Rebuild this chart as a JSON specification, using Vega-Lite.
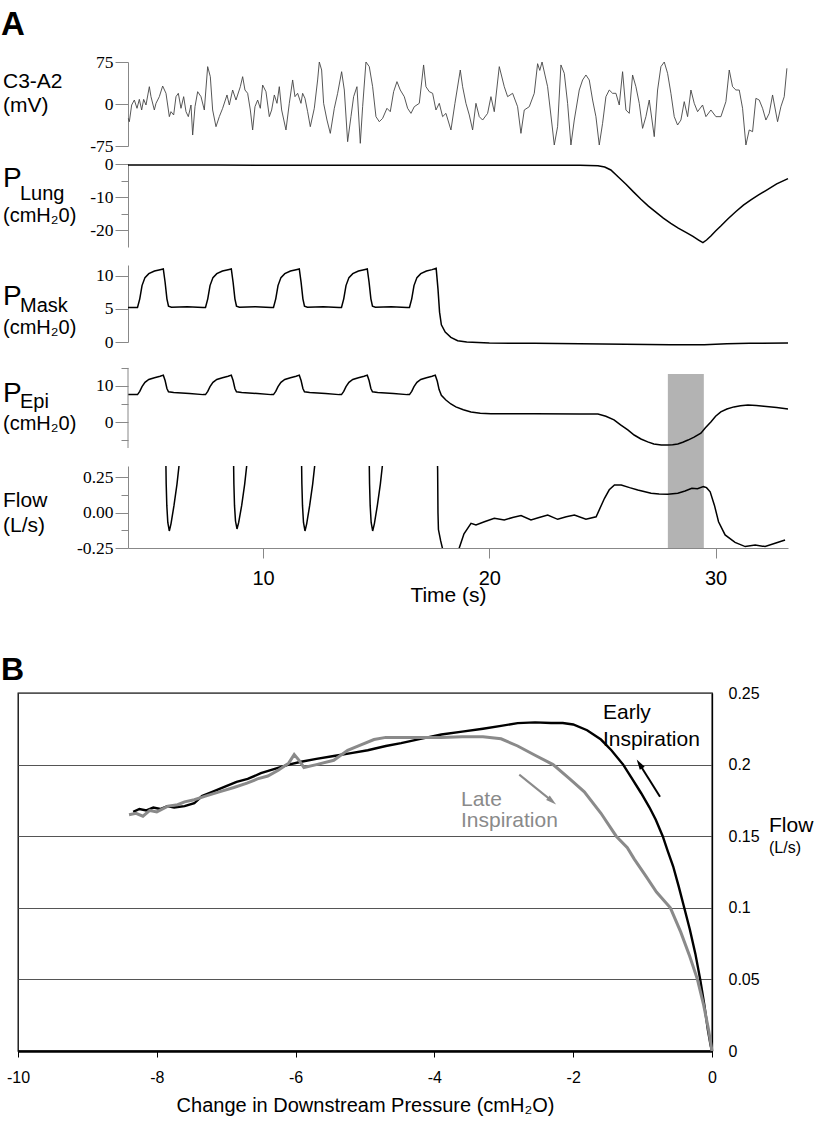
{
"$schema": "https://vega.github.io/schema/vega-lite/v6.json",
"padding": {"left": 0, "top": 9, "right": 0, "bottom": 0},
"config": {"view": {"stroke": null}, "font": "Liberation Sans"},
"datasets": {
"eeg": [{"t":4.045,"v":-25.6},{"t":4.089,"v":-31.6},{"t":4.192,"v":-1.8},{"t":4.31,"v":7.1},{"t":4.428,"v":-7.7},{"t":4.531,"v":8.3},{"t":4.634,"v":-10.7},{"t":4.722,"v":8.3},{"t":4.825,"v":-1.8},{"t":4.973,"v":30.9},{"t":5.046,"v":13.1},{"t":5.194,"v":-10.7},{"t":5.267,"v":1.2},{"t":5.415,"v":13.1},{"t":5.562,"v":32.1},{"t":5.709,"v":19.1},{"t":5.857,"v":-22.6},{"t":5.93,"v":-13.7},{"t":6.048,"v":-19.6},{"t":6.151,"v":13.1},{"t":6.254,"v":19.1},{"t":6.372,"v":-7.7},{"t":6.49,"v":13.1},{"t":6.593,"v":-13.7},{"t":6.696,"v":-22.6},{"t":6.814,"v":-1.8},{"t":6.888,"v":-55.4},{"t":6.991,"v":-4.8},{"t":7.109,"v":22},{"t":7.256,"v":13.1},{"t":7.403,"v":-10.7},{"t":7.551,"v":66.7},{"t":7.668,"v":48.8},{"t":7.771,"v":-10.7},{"t":7.919,"v":-40.5},{"t":8.066,"v":-22.6},{"t":8.213,"v":-7.7},{"t":8.405,"v":16.1},{"t":8.508,"v":-1.8},{"t":8.655,"v":25},{"t":8.803,"v":7.1},{"t":8.994,"v":30.9},{"t":9.097,"v":48.8},{"t":9.2,"v":25},{"t":9.318,"v":19.1},{"t":9.436,"v":-10.7},{"t":9.539,"v":-46.4},{"t":9.642,"v":-4.8},{"t":9.76,"v":7.1},{"t":9.878,"v":-7.7},{"t":9.981,"v":33.9},{"t":10.128,"v":22},{"t":10.276,"v":-22.6},{"t":10.379,"v":-10.7},{"t":10.497,"v":16.1},{"t":10.614,"v":1.2},{"t":10.717,"v":30.9},{"t":10.821,"v":-10.7},{"t":11.012,"v":-46.4},{"t":11.159,"v":1.2},{"t":11.307,"v":42.9},{"t":11.41,"v":13.1},{"t":11.527,"v":19.1},{"t":11.675,"v":1.2},{"t":11.748,"v":19.1},{"t":11.852,"v":10.1},{"t":11.969,"v":-13.7},{"t":12.087,"v":-40.5},{"t":12.264,"v":-7.7},{"t":12.411,"v":42.9},{"t":12.485,"v":75},{"t":12.588,"v":60.7},{"t":12.676,"v":1.2},{"t":12.824,"v":-28.6},{"t":12.971,"v":-52.4},{"t":13.148,"v":-7.7},{"t":13.295,"v":19.1},{"t":13.472,"v":57.7},{"t":13.59,"v":25},{"t":13.737,"v":-67.3},{"t":13.884,"v":-22.6},{"t":14.002,"v":13.1},{"t":14.149,"v":30.9},{"t":14.297,"v":-70.2},{"t":14.4,"v":-4.8},{"t":14.547,"v":75},{"t":14.694,"v":66.7},{"t":14.842,"v":30.9},{"t":14.989,"v":-22.6},{"t":15.136,"v":-31.6},{"t":15.284,"v":-25.6},{"t":15.475,"v":-7.7},{"t":15.622,"v":-13.7},{"t":15.77,"v":22},{"t":15.917,"v":39.9},{"t":16.064,"v":25},{"t":16.241,"v":13.1},{"t":16.388,"v":-7.7},{"t":16.536,"v":-16.7},{"t":16.683,"v":-4.8},{"t":16.904,"v":1.2},{"t":17.095,"v":69.7},{"t":17.198,"v":30.9},{"t":17.346,"v":22},{"t":17.493,"v":19.1},{"t":17.64,"v":-10.7},{"t":17.788,"v":1.2},{"t":17.935,"v":-22.6},{"t":18.082,"v":-16.7},{"t":18.303,"v":-46.4},{"t":18.48,"v":1.2},{"t":18.716,"v":60.7},{"t":18.819,"v":30.9},{"t":18.966,"v":1.2},{"t":19.113,"v":-19.6},{"t":19.261,"v":-46.4},{"t":19.408,"v":1.2},{"t":19.555,"v":-22.6},{"t":19.703,"v":-28.6},{"t":19.924,"v":-16.7},{"t":20.071,"v":13.1},{"t":20.218,"v":-13.7},{"t":20.439,"v":66.7},{"t":20.66,"v":30.9},{"t":20.808,"v":13.1},{"t":21.028,"v":19.1},{"t":21.249,"v":-4.8},{"t":21.397,"v":-52.4},{"t":21.544,"v":-10.7},{"t":21.765,"v":-4.8},{"t":21.986,"v":19.1},{"t":22.133,"v":72},{"t":22.23,"v":60},{"t":22.33,"v":75},{"t":22.575,"v":30.9},{"t":22.796,"v":-46.4},{"t":22.87,"v":-73.2},{"t":23.017,"v":-40.5},{"t":23.164,"v":69.7},{"t":23.312,"v":54.8},{"t":23.459,"v":1.2},{"t":23.606,"v":-73.2},{"t":23.754,"v":-28.6},{"t":23.974,"v":25},{"t":24.122,"v":42.9},{"t":24.269,"v":51.8},{"t":24.416,"v":42.9},{"t":24.564,"v":7.1},{"t":24.711,"v":-22.6},{"t":24.858,"v":-73.2},{"t":25.005,"v":-34.5},{"t":25.153,"v":13.1},{"t":25.3,"v":25},{"t":25.447,"v":19.1},{"t":25.595,"v":19.1},{"t":25.742,"v":-1.8},{"t":25.889,"v":57.7},{"t":26.037,"v":-10.7},{"t":26.184,"v":-16.7},{"t":26.331,"v":51.8},{"t":26.478,"v":30.9},{"t":26.626,"v":1.2},{"t":26.773,"v":-43.5},{"t":26.92,"v":-22.6},{"t":27.068,"v":7.1},{"t":27.289,"v":-58.3},{"t":27.436,"v":25},{"t":27.583,"v":66.7},{"t":27.731,"v":75},{"t":27.878,"v":54.8},{"t":28.025,"v":19.1},{"t":28.172,"v":-22.6},{"t":28.32,"v":-37.5},{"t":28.467,"v":-28.6},{"t":28.614,"v":4.2},{"t":28.762,"v":-22.6},{"t":28.909,"v":25},{"t":29.056,"v":1.2},{"t":29.203,"v":-13.7},{"t":29.424,"v":-1.8},{"t":29.572,"v":-22.6},{"t":29.793,"v":-10.7},{"t":30.014,"v":-22.6},{"t":30.234,"v":-22.6},{"t":30.455,"v":4.2},{"t":30.603,"v":60.7},{"t":30.75,"v":30.9},{"t":30.897,"v":25},{"t":31.045,"v":25},{"t":31.192,"v":-7.7},{"t":31.339,"v":-73.2},{"t":31.486,"v":-46.4},{"t":31.634,"v":-49.4},{"t":31.781,"v":10.1},{"t":31.928,"v":7.1},{"t":32.076,"v":-7.7},{"t":32.223,"v":-28.6},{"t":32.37,"v":-16.7},{"t":32.518,"v":16.1},{"t":32.739,"v":-31.6},{"t":32.886,"v":-4.8},{"t":33.033,"v":13.1},{"t":33.151,"v":63.7}],
"lung": [{"t":4.03,"v":-0.3},{"t":8,"v":-0.3},{"t":12,"v":-0.4},{"t":16,"v":-0.35},{"t":20,"v":-0.4},{"t":24,"v":-0.4},{"t":24.8,"v":-0.5},{"t":25.1,"v":-0.9},{"t":25.37,"v":-1.8},{"t":25.7,"v":-3.9},{"t":26.04,"v":-6.1},{"t":26.37,"v":-8.4},{"t":26.7,"v":-10.6},{"t":27.03,"v":-12.7},{"t":27.36,"v":-14.5},{"t":27.69,"v":-16.3},{"t":28.02,"v":-17.9},{"t":28.35,"v":-19.3},{"t":28.69,"v":-20.6},{"t":29.0,"v":-21.8},{"t":29.25,"v":-22.9},{"t":29.44,"v":-23.7},{"t":29.6,"v":-22.9},{"t":29.79,"v":-21.7},{"t":30.0,"v":-20.2},{"t":30.23,"v":-18.7},{"t":30.55,"v":-16.5},{"t":30.9,"v":-14.3},{"t":31.23,"v":-12.4},{"t":31.56,"v":-10.8},{"t":31.9,"v":-9.3},{"t":32.22,"v":-8.0},{"t":32.7,"v":-6.0},{"t":33.2,"v":-4.4}],
"mask": [{"t":4.03,"v":5.2},{"t":4.45,"v":5.2},{"t":4.55,"v":6.5},{"t":4.65,"v":8.5},{"t":4.78,"v":9.7},{"t":4.95,"v":10.3},{"t":5.2,"v":10.7},{"t":5.45,"v":10.9},{"t":5.59,"v":11.0},{"t":5.67,"v":9.0},{"t":5.75,"v":6.5},{"t":5.82,"v":5.4},{"t":5.95,"v":5.25},{"t":6.65,"v":5.3},{"t":7.35,"v":5.2},{"t":7.455,"v":5.2},{"t":7.555,"v":6.5},{"t":7.655,"v":8.5},{"t":7.785,"v":9.7},{"t":7.955,"v":10.3},{"t":8.205,"v":10.7},{"t":8.455,"v":10.9},{"t":8.595,"v":11.0},{"t":8.675,"v":9.0},{"t":8.755,"v":6.5},{"t":8.825,"v":5.4},{"t":8.955,"v":5.25},{"t":9.655,"v":5.3},{"t":10.355,"v":5.2},{"t":10.46,"v":5.2},{"t":10.56,"v":6.5},{"t":10.66,"v":8.5},{"t":10.79,"v":9.7},{"t":10.96,"v":10.3},{"t":11.21,"v":10.7},{"t":11.46,"v":10.9},{"t":11.6,"v":11.0},{"t":11.68,"v":9.0},{"t":11.76,"v":6.5},{"t":11.83,"v":5.4},{"t":11.96,"v":5.25},{"t":12.66,"v":5.3},{"t":13.36,"v":5.2},{"t":13.465,"v":5.2},{"t":13.565,"v":6.5},{"t":13.665,"v":8.5},{"t":13.795,"v":9.7},{"t":13.965,"v":10.3},{"t":14.215,"v":10.7},{"t":14.465,"v":10.9},{"t":14.605,"v":11.0},{"t":14.685,"v":9.0},{"t":14.765,"v":6.5},{"t":14.835,"v":5.4},{"t":14.965,"v":5.25},{"t":15.665,"v":5.3},{"t":16.365,"v":5.2},{"t":16.47,"v":5.2},{"t":16.57,"v":6.5},{"t":16.67,"v":8.5},{"t":16.8,"v":9.7},{"t":16.97,"v":10.3},{"t":17.22,"v":10.7},{"t":17.47,"v":10.9},{"t":17.65,"v":11.1},{"t":17.73,"v":8},{"t":17.8,"v":4.5},{"t":17.88,"v":2.6},{"t":18.05,"v":1.5},{"t":18.3,"v":0.7},{"t":18.6,"v":0.2},{"t":19.0,"v":0.0},{"t":20,"v":-0.15},{"t":22,"v":-0.2},{"t":24,"v":-0.25},{"t":26,"v":-0.35},{"t":28,"v":-0.4},{"t":29.5,"v":-0.4},{"t":30.5,"v":-0.25},{"t":31.5,"v":-0.2},{"t":33.2,"v":-0.15}],
"epi": [{"t":4.03,"v":7.6},{"t":4.45,"v":7.6},{"t":4.55,"v":8.5},{"t":4.65,"v":9.8},{"t":4.78,"v":11.0},{"t":4.95,"v":11.8},{"t":5.2,"v":12.3},{"t":5.45,"v":12.7},{"t":5.59,"v":13.0},{"t":5.67,"v":11.5},{"t":5.75,"v":9.3},{"t":5.82,"v":8.4},{"t":6.05,"v":8.2},{"t":6.75,"v":7.9},{"t":7.35,"v":7.6},{"t":7.455,"v":7.6},{"t":7.555,"v":8.5},{"t":7.655,"v":9.8},{"t":7.785,"v":11.0},{"t":7.955,"v":11.8},{"t":8.205,"v":12.3},{"t":8.455,"v":12.7},{"t":8.595,"v":13.0},{"t":8.675,"v":11.5},{"t":8.755,"v":9.3},{"t":8.825,"v":8.4},{"t":9.055,"v":8.2},{"t":9.755,"v":7.9},{"t":10.355,"v":7.6},{"t":10.46,"v":7.6},{"t":10.56,"v":8.5},{"t":10.66,"v":9.8},{"t":10.79,"v":11.0},{"t":10.96,"v":11.8},{"t":11.21,"v":12.3},{"t":11.46,"v":12.7},{"t":11.6,"v":13.0},{"t":11.68,"v":11.5},{"t":11.76,"v":9.3},{"t":11.83,"v":8.4},{"t":12.06,"v":8.2},{"t":12.76,"v":7.9},{"t":13.36,"v":7.6},{"t":13.465,"v":7.6},{"t":13.565,"v":8.5},{"t":13.665,"v":9.8},{"t":13.795,"v":11.0},{"t":13.965,"v":11.8},{"t":14.215,"v":12.3},{"t":14.465,"v":12.7},{"t":14.605,"v":13.0},{"t":14.685,"v":11.5},{"t":14.765,"v":9.3},{"t":14.835,"v":8.4},{"t":15.065,"v":8.2},{"t":15.765,"v":7.9},{"t":16.365,"v":7.6},{"t":16.47,"v":7.6},{"t":16.57,"v":8.5},{"t":16.67,"v":9.8},{"t":16.8,"v":11.0},{"t":16.97,"v":11.8},{"t":17.22,"v":12.3},{"t":17.47,"v":12.7},{"t":17.61,"v":13.0},{"t":17.7,"v":11.3},{"t":17.78,"v":9.0},{"t":17.88,"v":7.4},{"t":18.08,"v":6.1},{"t":18.3,"v":5.0},{"t":18.52,"v":4.2},{"t":18.85,"v":3.4},{"t":19.19,"v":2.8},{"t":19.6,"v":2.45},{"t":20.07,"v":2.3},{"t":22,"v":2.3},{"t":24,"v":2.25},{"t":24.8,"v":2.2},{"t":25.15,"v":1.6},{"t":25.51,"v":0.6},{"t":25.8,"v":-0.8},{"t":26.12,"v":-2.2},{"t":26.4,"v":-3.6},{"t":26.7,"v":-4.7},{"t":27.0,"v":-5.5},{"t":27.27,"v":-6.1},{"t":27.6,"v":-6.4},{"t":27.89,"v":-6.4},{"t":28.1,"v":-6.3},{"t":28.33,"v":-6.1},{"t":28.55,"v":-5.6},{"t":28.78,"v":-5.0},{"t":29.05,"v":-4.2},{"t":29.35,"v":-3.1},{"t":29.55,"v":-1.6},{"t":29.79,"v":0.0},{"t":30.0,"v":1.6},{"t":30.23,"v":2.8},{"t":30.5,"v":3.6},{"t":30.81,"v":4.2},{"t":31.1,"v":4.5},{"t":31.43,"v":4.7},{"t":31.8,"v":4.6},{"t":32.13,"v":4.4},{"t":32.7,"v":4.0},{"t":33.2,"v":3.6}],
"flow": [{"t":4.03,"v":0.6},{"t":5.6,"v":0.6},{"t":5.7,"v":0.4},{"t":5.718,"v":0.2},{"t":5.745,"v":0.05},{"t":5.789,"v":-0.07},{"t":5.855,"v":-0.13},{"t":5.93,"v":-0.08},{"t":6.063,"v":0.05},{"t":6.195,"v":0.2},{"t":6.306,"v":0.36},{"t":6.4,"v":0.6},{"t":8.6,"v":0.6},{"t":8.692,"v":0.4},{"t":8.71,"v":0.2},{"t":8.737,"v":0.05},{"t":8.781,"v":-0.06},{"t":8.847,"v":-0.116},{"t":8.922,"v":-0.07},{"t":9.055,"v":0.05},{"t":9.187,"v":0.2},{"t":9.298,"v":0.36},{"t":9.4,"v":0.6},{"t":11.6,"v":0.6},{"t":11.697,"v":0.4},{"t":11.715,"v":0.2},{"t":11.742,"v":0.05},{"t":11.786,"v":-0.07},{"t":11.852,"v":-0.13},{"t":11.927,"v":-0.08},{"t":12.06,"v":0.05},{"t":12.192,"v":0.2},{"t":12.303,"v":0.36},{"t":12.4,"v":0.6},{"t":14.6,"v":0.6},{"t":14.688,"v":0.4},{"t":14.706,"v":0.2},{"t":14.733,"v":0.05},{"t":14.777,"v":-0.07},{"t":14.843,"v":-0.13},{"t":14.918,"v":-0.08},{"t":15.051,"v":0.05},{"t":15.183,"v":0.2},{"t":15.294,"v":0.36},{"t":15.4,"v":0.6},{"t":17.6,"v":0.6},{"t":17.7,"v":0.4},{"t":17.715,"v":0.3},{"t":17.73,"v":0.0},{"t":17.75,"v":-0.12},{"t":17.85,"v":-0.2},{"t":17.94,"v":-0.26},{"t":18.0,"v":-0.5},{"t":18.6,"v":-0.5},{"t":18.67,"v":-0.25},{"t":18.88,"v":-0.15},{"t":19.19,"v":-0.076},{"t":19.41,"v":-0.088},{"t":19.78,"v":-0.065},{"t":20.22,"v":-0.041},{"t":20.66,"v":-0.053},{"t":21.03,"v":-0.035},{"t":21.4,"v":-0.022},{"t":21.84,"v":-0.053},{"t":22.2,"v":-0.035},{"t":22.58,"v":-0.018},{"t":23.02,"v":-0.048},{"t":23.4,"v":-0.03},{"t":23.76,"v":-0.018},{"t":24.27,"v":-0.048},{"t":24.72,"v":-0.03},{"t":25.09,"v":0.1},{"t":25.3,"v":0.16},{"t":25.53,"v":0.194},{"t":25.83,"v":0.194},{"t":26.2,"v":0.175},{"t":26.56,"v":0.158},{"t":27.15,"v":0.135},{"t":27.5,"v":0.13},{"t":27.89,"v":0.128},{"t":28.33,"v":0.135},{"t":28.65,"v":0.152},{"t":28.95,"v":0.17},{"t":29.2,"v":0.168},{"t":29.46,"v":0.182},{"t":29.6,"v":0.175},{"t":29.76,"v":0.146},{"t":29.95,"v":0.05},{"t":30.13,"v":-0.065},{"t":30.42,"v":-0.158},{"t":30.86,"v":-0.21},{"t":31.31,"v":-0.24},{"t":31.75,"v":-0.229},{"t":32.19,"v":-0.24},{"t":32.63,"v":-0.217},{"t":33.07,"v":-0.194}],
"band": [{"start":27.89,"end":29.48}],
"early": [{"p":-8.34,"f":0.167},{"p":-8.25,"f":0.169},{"p":-8.15,"f":0.168},{"p":-8.05,"f":0.17},{"p":-7.95,"f":0.169},{"p":-7.85,"f":0.171},{"p":-7.75,"f":0.17},{"p":-7.6,"f":0.171},{"p":-7.46,"f":0.173},{"p":-7.35,"f":0.178},{"p":-7.2,"f":0.181},{"p":-7.0,"f":0.185},{"p":-6.85,"f":0.188},{"p":-6.69,"f":0.19},{"p":-6.5,"f":0.194},{"p":-6.3,"f":0.197},{"p":-6.1,"f":0.2},{"p":-5.92,"f":0.202},{"p":-5.7,"f":0.204},{"p":-5.45,"f":0.206},{"p":-5.2,"f":0.208},{"p":-4.96,"f":0.21},{"p":-4.7,"f":0.213},{"p":-4.48,"f":0.215},{"p":-4.2,"f":0.218},{"p":-3.9,"f":0.221},{"p":-3.6,"f":0.223},{"p":-3.3,"f":0.225},{"p":-3.04,"f":0.227},{"p":-2.8,"f":0.229},{"p":-2.55,"f":0.2295},{"p":-2.32,"f":0.229},{"p":-2.15,"f":0.229},{"p":-2.0,"f":0.228},{"p":-1.8,"f":0.224},{"p":-1.6,"f":0.2175},{"p":-1.45,"f":0.21},{"p":-1.28,"f":0.2},{"p":-1.15,"f":0.19},{"p":-1.02,"f":0.18},{"p":-0.9,"f":0.17},{"p":-0.81,"f":0.1615},{"p":-0.71,"f":0.15},{"p":-0.64,"f":0.14},{"p":-0.56,"f":0.129},{"p":-0.48,"f":0.115},{"p":-0.4,"f":0.1},{"p":-0.32,"f":0.085},{"p":-0.24,"f":0.068},{"p":-0.17,"f":0.05},{"p":-0.11,"f":0.032},{"p":-0.06,"f":0.015},{"p":-0.02,"f":0.004},{"p":0,"f":0}],
"late": [{"p":-8.4,"f":0.165},{"p":-8.3,"f":0.166},{"p":-8.2,"f":0.164},{"p":-8.1,"f":0.168},{"p":-8.0,"f":0.167},{"p":-7.84,"f":0.171},{"p":-7.7,"f":0.172},{"p":-7.6,"f":0.174},{"p":-7.46,"f":0.1755},{"p":-7.3,"f":0.178},{"p":-7.1,"f":0.181},{"p":-6.89,"f":0.184},{"p":-6.7,"f":0.187},{"p":-6.55,"f":0.19},{"p":-6.4,"f":0.192},{"p":-6.25,"f":0.196},{"p":-6.1,"f":0.201},{"p":-6.02,"f":0.207},{"p":-5.95,"f":0.203},{"p":-5.88,"f":0.198},{"p":-5.7,"f":0.2},{"p":-5.45,"f":0.203},{"p":-5.25,"f":0.21},{"p":-5.05,"f":0.214},{"p":-4.87,"f":0.2175},{"p":-4.7,"f":0.219},{"p":-4.5,"f":0.219},{"p":-4.2,"f":0.219},{"p":-3.9,"f":0.219},{"p":-3.6,"f":0.2195},{"p":-3.3,"f":0.2195},{"p":-3.04,"f":0.218},{"p":-2.8,"f":0.213},{"p":-2.55,"f":0.2065},{"p":-2.29,"f":0.2},{"p":-2.05,"f":0.19},{"p":-1.84,"f":0.181},{"p":-1.6,"f":0.166},{"p":-1.38,"f":0.15},{"p":-1.22,"f":0.142},{"p":-1.12,"f":0.134},{"p":-0.95,"f":0.122},{"p":-0.8,"f":0.111},{"p":-0.6,"f":0.1},{"p":-0.45,"f":0.083},{"p":-0.32,"f":0.066},{"p":-0.21,"f":0.05},{"p":-0.12,"f":0.032},{"p":-0.05,"f":0.015},{"p":-0.02,"f":0.006},{"p":0,"f":0}]
},
"vconcat": [
{
"bounds": "flush",
"spacing": 0,
"hconcat": [
{"width": 110, "height": 1, "data": {"values": []}, "mark": "point", "encoding": {}},
{
"bounds": "flush",
"spacing": 18,
"vconcat": [
{
"width": 660, "height": 84,
"layer": [
{"data": {"name": "eeg"}, "mark": {"type": "line", "color": "#444", "strokeWidth": 0.9},
 "encoding": {
  "x": {"field": "t", "type": "quantitative", "scale": {"domain": [4.03, 33.2], "nice": false, "zero": false}, "axis": {"orient": "bottom", "domain": false, "ticks": false, "labels": false, "grid": false, "title": null}},
  "y": {"field": "v", "type": "quantitative", "scale": {"domain": [-75, 75], "nice": false, "zero": false},
        "axis": {"orient": "left", "values": [-75, 0, 75], "tickCount": 12, "labelExpr": "'' + datum.value", "title": null, "grid": false, "domainColor": "#888", "tickColor": "#888", "tickSize": 13, "labelPadding": 2, "labelFont": "Liberation Serif", "labelFontSize": 17.5, "labelColor": "#000", "labelOverlap": false}}}},
{"data": {"values": [{}]}, "mark": {"type": "text", "text": "A", "font": "Liberation Sans", "fontSize": 33, "fontWeight": "bold", "align": "left", "baseline": "alphabetic", "dx": -127, "dy": -27},
 "encoding": {"x": {"datum": 4.03}, "y": {"datum": 75}}},
{"data": {"values": [{}]}, "mark": {"type": "text", "text": "C3-A2", "font": "Liberation Sans", "fontSize": 21, "align": "left", "baseline": "alphabetic", "dx": -125, "dy": 26},
 "encoding": {"x": {"datum": 4.03}, "y": {"datum": 75}}},
{"data": {"values": [{}]}, "mark": {"type": "text", "text": "(mV)", "font": "Liberation Sans", "fontSize": 21, "align": "left", "baseline": "alphabetic", "dx": -125, "dy": 50},
 "encoding": {"x": {"datum": 4.03}, "y": {"datum": 75}}}
]
},
{
"width": 660, "height": 83,
"layer": [
{"data": {"name": "lung"}, "mark": {"type": "line", "color": "#000", "strokeWidth": 1.5},
 "encoding": {
  "x": {"field": "t", "type": "quantitative", "scale": {"domain": [4.03, 33.2], "nice": false, "zero": false}, "axis": {"orient": "bottom", "domain": false, "ticks": false, "labels": false, "grid": false, "title": null}},
  "y": {"field": "v", "type": "quantitative", "scale": {"domain": [-25, 0], "nice": false, "zero": false},
        "axis": {"orient": "left", "values": [-20, -15, -10, -5, 0], "tickCount": 12, "labelExpr": "datum.value % 10 === 0 ? '' + datum.value : ''", "title": null, "grid": false, "domainColor": "#888", "tickColor": "#888", "tickSize": {"condition": {"test": "datum.value % 10 === 0", "value": 13}, "value": 7}, "labelPadding": 2, "labelFont": "Liberation Serif", "labelFontSize": 17.5, "labelColor": "#000", "labelOverlap": false}}}},
{"data": {"values": [{}]}, "mark": {"type": "text", "text": "P", "font": "Liberation Sans", "fontSize": 28, "align": "left", "baseline": "alphabetic", "dx": -125, "dy": 23},
 "encoding": {"x": {"datum": 4.03}, "y": {"datum": 0}}},
{"data": {"values": [{}]}, "mark": {"type": "text", "text": "Lung", "font": "Liberation Sans", "fontSize": 20, "align": "left", "baseline": "alphabetic", "dx": -108, "dy": 36},
 "encoding": {"x": {"datum": 4.03}, "y": {"datum": 0}}},
{"data": {"values": [{}]}, "mark": {"type": "text", "text": "(cmH₂0)", "font": "Liberation Sans", "fontSize": 20, "align": "left", "baseline": "alphabetic", "dx": -125, "dy": 58},
 "encoding": {"x": {"datum": 4.03}, "y": {"datum": 0}}}
]
},
{
"width": 660, "height": 77,
"layer": [
{"data": {"name": "mask"}, "mark": {"type": "line", "color": "#000", "strokeWidth": 1.5},
 "encoding": {
  "x": {"field": "t", "type": "quantitative", "scale": {"domain": [4.03, 33.2], "nice": false, "zero": false}, "axis": {"orient": "bottom", "domain": false, "ticks": false, "labels": false, "grid": false, "title": null}},
  "y": {"field": "v", "type": "quantitative", "scale": {"domain": [0, 11.6], "nice": false, "zero": false},
        "axis": {"orient": "left", "values": [0, 5, 10], "tickCount": 12, "labelExpr": "'' + datum.value", "title": null, "grid": false, "domainColor": "#888", "tickColor": "#888", "tickSize": 13, "labelPadding": 2, "labelFont": "Liberation Serif", "labelFontSize": 17.5, "labelColor": "#000", "labelOverlap": false}}}},
{"data": {"values": [{}]}, "mark": {"type": "text", "text": "P", "font": "Liberation Sans", "fontSize": 28, "align": "left", "baseline": "alphabetic", "dx": -125, "dy": 40},
 "encoding": {"x": {"datum": 4.03}, "y": {"datum": 11.6}}},
{"data": {"values": [{}]}, "mark": {"type": "text", "text": "Mask", "font": "Liberation Sans", "fontSize": 20, "align": "left", "baseline": "alphabetic", "dx": -108, "dy": 47},
 "encoding": {"x": {"datum": 4.03}, "y": {"datum": 11.6}}},
{"data": {"values": [{}]}, "mark": {"type": "text", "text": "(cmH₂0)", "font": "Liberation Sans", "fontSize": 20, "align": "left", "baseline": "alphabetic", "dx": -125, "dy": 69},
 "encoding": {"x": {"datum": 4.03}, "y": {"datum": 11.6}}}
]
},
{
"width": 660, "height": 88,
"layer": [
{"data": {"name": "band"}, "mark": {"type": "rect", "color": "#b3b3b3"},
 "encoding": {
  "x": {"field": "start", "type": "quantitative", "scale": {"domain": [4.03, 33.2], "nice": false, "zero": false}},
  "x2": {"field": "end"},
  "y": {"datum": 13.3}, "y2": {"datum": -12.2}}},
{"data": {"name": "epi"}, "mark": {"type": "line", "color": "#000", "strokeWidth": 1.5},
 "encoding": {
  "x": {"field": "t", "type": "quantitative", "axis": {"orient": "bottom", "domain": false, "ticks": false, "labels": false, "grid": false, "title": null}},
  "y": {"field": "v", "type": "quantitative", "scale": {"domain": [-7.2, 17.2], "nice": false, "zero": false},
        "axis": {"orient": "left", "values": [-5, 0, 5, 10, 15], "tickCount": 12, "labelExpr": "datum.value % 10 === 0 ? '' + datum.value : ''", "title": null, "grid": false, "domain": false, "tickColor": "#888", "tickSize": {"condition": {"test": "datum.value % 10 === 0", "value": 13}, "value": 7}, "labelPadding": 2, "labelFont": "Liberation Serif", "labelFontSize": 17.5, "labelColor": "#000", "labelOverlap": false}}}},
{"data": {"values": [{}]}, "mark": {"type": "rule", "color": "#888", "strokeWidth": 1},
 "encoding": {"x": {"datum": 4.03}, "y": {"datum": 15}, "y2": {"datum": -7.2}}},
{"data": {"values": [{}]}, "mark": {"type": "text", "text": "P", "font": "Liberation Sans", "fontSize": 28, "align": "left", "baseline": "alphabetic", "dx": -125, "dy": 42},
 "encoding": {"x": {"datum": 4.03}, "y": {"datum": 17.2}}},
{"data": {"values": [{}]}, "mark": {"type": "text", "text": "Epi", "font": "Liberation Sans", "fontSize": 20, "align": "left", "baseline": "alphabetic", "dx": -108, "dy": 48},
 "encoding": {"x": {"datum": 4.03}, "y": {"datum": 17.2}}},
{"data": {"values": [{}]}, "mark": {"type": "text", "text": "(cmH₂0)", "font": "Liberation Sans", "fontSize": 20, "align": "left", "baseline": "alphabetic", "dx": -125, "dy": 70},
 "encoding": {"x": {"datum": 4.03}, "y": {"datum": 17.2}}}
]
},
{
"width": 660, "height": 82,
"layer": [
{"data": {"name": "band"}, "mark": {"type": "rect", "color": "#b3b3b3"},
 "encoding": {
  "x": {"field": "start", "type": "quantitative", "scale": {"domain": [4.03, 33.2], "nice": false, "zero": false}},
  "x2": {"field": "end"},
  "y": {"datum": 0.3275}, "y2": {"datum": -0.25}}},
{"data": {"name": "flow"}, "mark": {"type": "line", "color": "#000", "strokeWidth": 1.5, "clip": true},
 "encoding": {
  "x": {"field": "t", "type": "quantitative",
        "axis": {"orient": "bottom", "values": [10, 20, 30], "tickCount": 12, "labelExpr": "'' + datum.value", "labelFont": "Liberation Sans", "labelFontSize": 20, "labelColor": "#000", "labelPadding": 10, "labelFlush": false, "tickSize": 10, "tickColor": "#888", "domainColor": "#888", "grid": false, "title": "Time (s)", "titleFont": "Liberation Sans", "titleFontSize": 21, "titleFontWeight": "normal", "titleColor": "#000", "titleX": 320, "titleY": 53, "titleBaseline": "alphabetic", "titleAlign": "center"}},
  "y": {"field": "v", "type": "quantitative", "scale": {"domain": [-0.25, 0.3275], "nice": false, "zero": false},
        "axis": {"orient": "left", "values": [-0.25, -0.125, 0, 0.125, 0.25], "tickCount": 12, "labelExpr": "datum.value === 0 ? '0.00' : datum.value === 0.25 ? '0.25' : datum.value === -0.25 ? '-0.25' : ''", "title": null, "grid": false, "domainColor": "#888", "tickColor": "#888", "tickSize": {"condition": {"test": "datum.value % 0.25 === 0", "value": 13}, "value": 7}, "labelPadding": 2, "labelFont": "Liberation Serif", "labelFontSize": 17.5, "labelColor": "#000", "labelOverlap": false}}}},
{"data": {"values": [{}]}, "mark": {"type": "text", "text": "Flow", "font": "Liberation Sans", "fontSize": 21, "align": "left", "baseline": "alphabetic", "dx": -125, "dy": 41},
 "encoding": {"x": {"datum": 4.03}, "y": {"datum": 0.3275}}},
{"data": {"values": [{}]}, "mark": {"type": "text", "text": "(L/s)", "font": "Liberation Sans", "fontSize": 21, "align": "left", "baseline": "alphabetic", "dx": -125, "dy": 66},
 "encoding": {"x": {"datum": 4.03}, "y": {"datum": 0.3275}}}
]
}
]
}
]
},
{
"width": 694, "height": 358,
"view": {"stroke": "#000", "strokeWidth": 1.3},
"layer": [
{"data": {"name": "early"}, "mark": {"type": "line", "color": "#000", "strokeWidth": 2.4},
 "encoding": {
  "x": {"field": "p", "type": "quantitative", "scale": {"domain": [-10, 0], "nice": false, "zero": false},
        "axis": {"orient": "bottom", "values": [-10, -8, -6, -4, -2, 0], "tickCount": 12, "labelExpr": "'' + datum.value", "labelFont": "Liberation Sans", "labelFontSize": 16, "labelColor": "#000", "labelPadding": 12, "labelFlush": false, "tickSize": 6, "tickColor": "#000", "domainColor": "#000", "domainWidth": 2.5, "grid": false, "title": "Change in Downstream Pressure (cmH₂O)", "titleFont": "Liberation Sans", "titleFontSize": 20, "titleFontWeight": "normal", "titleColor": "#000", "titlePadding": 10}},
  "y": {"field": "f", "type": "quantitative", "scale": {"domain": [0, 0.25], "nice": false},
        "axis": {"orient": "right", "values": [0, 0.05, 0.1, 0.15, 0.2, 0.25], "tickCount": 12, "labelExpr": "'' + datum.value", "labelFont": "Liberation Sans", "labelFontSize": 16, "labelColor": "#000", "labelPadding": 16, "ticks": false, "domainColor": "#000", "domainWidth": 1.3, "grid": true, "gridColor": "#555", "gridWidth": 1, "title": null, "labelOverlap": false}}}},
{"data": {"name": "late"}, "mark": {"type": "line", "color": "#8a8a8a", "strokeWidth": 3},
 "encoding": {"x": {"field": "p", "type": "quantitative"}, "y": {"field": "f", "type": "quantitative"}}},
{"data": {"values": [{}]}, "mark": {"type": "rule", "color": "#000", "strokeWidth": 2},
 "encoding": {"x": {"datum": -0.749}, "y": {"datum": 0.1776}, "x2": {"datum": -1.036}, "y2": {"datum": 0.1997}}},
{"data": {"values": [{}]}, "mark": {"type": "point", "shape": "M0,-1L0.55,1L-0.55,1Z", "filled": true, "color": "#000", "opacity": 1, "size": 110, "angle": 328},
 "encoding": {"x": {"datum": -1.045}, "y": {"datum": 0.2005}}},
{"data": {"values": [{}]}, "mark": {"type": "rule", "color": "#8a8a8a", "strokeWidth": 2},
 "encoding": {"x": {"datum": -2.777}, "y": {"datum": 0.193}, "x2": {"datum": -2.317}, "y2": {"datum": 0.175}}},
{"data": {"values": [{}]}, "mark": {"type": "point", "shape": "M0,-1L0.55,1L-0.55,1Z", "filled": true, "color": "#8a8a8a", "opacity": 1, "size": 110, "angle": 129},
 "encoding": {"x": {"datum": -2.305}, "y": {"datum": 0.1745}}},
{"data": {"values": [{}]}, "mark": {"type": "text", "text": "Early", "font": "Liberation Sans", "fontSize": 21, "align": "left", "baseline": "alphabetic", "color": "#000"},
 "encoding": {"x": {"datum": -1.571}, "y": {"datum": 0.2315}}},
{"data": {"values": [{}]}, "mark": {"type": "text", "text": "Inspiration", "font": "Liberation Sans", "fontSize": 21, "align": "left", "baseline": "alphabetic", "color": "#000"},
 "encoding": {"x": {"datum": -1.571}, "y": {"datum": 0.2133}}},
{"data": {"values": [{}]}, "mark": {"type": "text", "text": "Late", "font": "Liberation Sans", "fontSize": 21, "align": "left", "baseline": "alphabetic", "color": "#8a8a8a"},
 "encoding": {"x": {"datum": -3.617}, "y": {"datum": 0.1713}}},
{"data": {"values": [{}]}, "mark": {"type": "text", "text": "Inspiration", "font": "Liberation Sans", "fontSize": 21, "align": "left", "baseline": "alphabetic", "color": "#8a8a8a"},
 "encoding": {"x": {"datum": -3.617}, "y": {"datum": 0.1566}}},
{"data": {"values": [{}]}, "mark": {"type": "text", "text": "Flow", "font": "Liberation Sans", "fontSize": 21, "align": "left", "baseline": "alphabetic", "dx": 57, "dy": -4},
 "encoding": {"x": {"datum": 0}, "y": {"datum": 0.15}}},
{"data": {"values": [{}]}, "mark": {"type": "text", "text": "(L/s)", "font": "Liberation Sans", "fontSize": 16, "align": "left", "baseline": "alphabetic", "dx": 57, "dy": 17},
 "encoding": {"x": {"datum": 0}, "y": {"datum": 0.15}}},
{"data": {"values": [{}]}, "mark": {"type": "text", "text": "B", "font": "Liberation Sans", "fontSize": 32, "fontWeight": "bold", "align": "left", "baseline": "alphabetic", "dx": -17, "dy": -13},
 "encoding": {"x": {"datum": -10}, "y": {"datum": 0.25}}}
]
}
],
"spacing": 48
}
